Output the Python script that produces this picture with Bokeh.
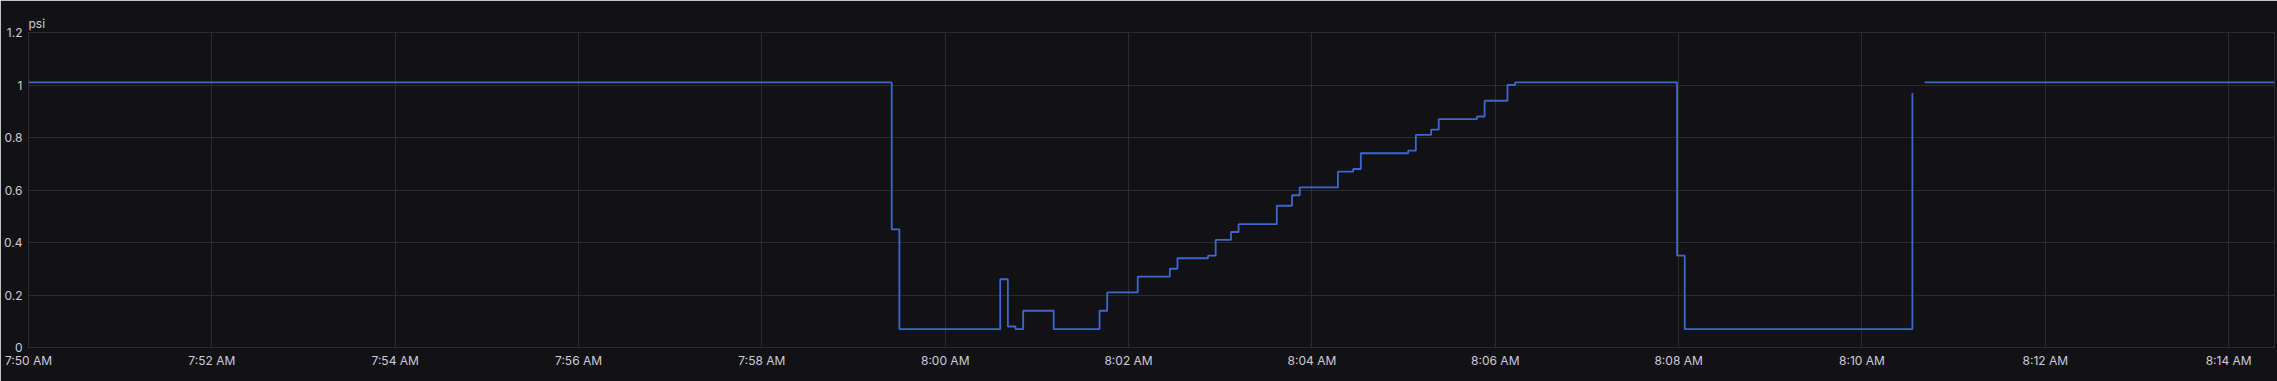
import pandas as pd
from bokeh.plotting import figure
from bokeh.models import Range1d, FixedTicker, Title
from bokeh.embed import file_html
from bokeh.resources import INLINE

DAY = "2024-01-01 "

# step series (value holds from each time until the next one)
seg1_times = ["07:50:00", "07:59:25", "07:59:30", "08:00:36", "08:00:41", "08:00:46",
              "08:00:51", "08:01:11", "08:01:41", "08:01:46", "08:02:06", "08:02:27",
              "08:02:32", "08:02:52", "08:02:57", "08:03:07", "08:03:12", "08:03:37",
              "08:03:47", "08:03:52", "08:04:17", "08:04:27", "08:04:32", "08:05:03",
              "08:05:08", "08:05:18", "08:05:23", "08:05:48", "08:05:53", "08:06:08",
              "08:06:13", "08:07:59", "08:08:04", "08:10:33"]
seg1_values = [1.01, 0.45, 0.07, 0.26, 0.08, 0.07,
               0.14, 0.07, 0.14, 0.21, 0.27, 0.30,
               0.34, 0.35, 0.41, 0.44, 0.47, 0.54,
               0.58, 0.61, 0.67, 0.68, 0.74, 0.75,
               0.81, 0.83, 0.87, 0.88, 0.94, 1.00,
               1.01, 0.35, 0.07, 0.97]
seg2_times = ["08:10:41", "08:14:30"]
seg2_values = [1.01, 1.01]

x_start, x_end = "07:50:00", "08:14:30"
x_tick_times = ["07:50", "07:52", "07:54", "07:56", "07:58", "08:00", "08:02",
                "08:04", "08:06", "08:08", "08:10", "08:12", "08:14"]
x_tick_labels = ["7:50 AM", "7:52 AM", "7:54 AM", "7:56 AM", "7:58 AM", "8:00 AM", "8:02 AM",
                 "8:04 AM", "8:06 AM", "8:08 AM", "8:10 AM", "8:12 AM", "8:14 AM"]
y_ticks = [0, 0.2, 0.4, 0.6, 0.8, 1.0, 1.2]
y_tick_labels = ["0", "0.2", "0.4", "0.6", "0.8", "1", "1.2"]
unit_label = "psi"

BG = "#121214"
GRID = "#2c2c30"
TXT = "#ccccdc"
BLUE = "#3d66d1"
FONT = "Inter"


def ms(t):
    if len(t) == 5:
        t = t + ":00"
    return pd.Timestamp(DAY + t).value / 1e6


p = figure(width=2277, height=381, output_backend="svg", toolbar_location=None,
           x_range=Range1d(ms(x_start), ms(x_end)), y_range=Range1d(0, 1.2),
           min_border_left=28, min_border_right=3, min_border_top=32, min_border_bottom=34,
           background_fill_color=BG, border_fill_color=BG,
           outline_line_color=GRID)

p.title = Title(text=unit_label, align="left", text_font=FONT, text_font_size="12px",
                text_font_style="normal", text_color=TXT, standoff=3, offset=0)

xt = [ms(t) for t in x_tick_times]
p.xaxis.ticker = FixedTicker(ticks=xt)
p.xaxis.major_label_overrides = {k: v for k, v in zip(xt, x_tick_labels)}
p.yaxis.ticker = FixedTicker(ticks=y_ticks)
p.yaxis.major_label_overrides = {k: v for k, v in zip(y_ticks, y_tick_labels)}

for ax in (p.xaxis, p.yaxis):
    ax.axis_line_color = None
    ax.major_tick_line_color = None
    ax.minor_tick_line_color = None
    ax.major_tick_out = 0
    ax.major_tick_in = 0
    ax.major_label_text_font = FONT
    ax.major_label_text_font_size = "12px"
    ax.major_label_text_color = TXT
p.xaxis.major_label_standoff = 5
p.yaxis.major_label_standoff = 6

p.xgrid.grid_line_color = GRID
p.ygrid.grid_line_color = GRID

p.step(x=[ms(t) for t in seg1_times], y=seg1_values, mode="after",
       line_color=BLUE, line_width=1.8)
p.step(x=[ms(t) for t in seg2_times], y=seg2_values, mode="after",
       line_color=BLUE, line_width=1.8)

open("out.html", "w").write(file_html(p, INLINE))
